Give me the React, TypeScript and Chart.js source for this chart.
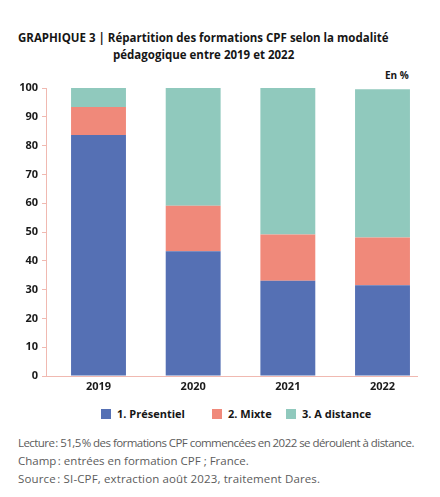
import React, { useEffect, useRef } from "react";
import { Chart, registerables } from "chart.js";

Chart.register(...registerables);

const years = ["2019", "2020", "2021", "2022"];
const presentiel = [83.7, 43.3, 33.1, 31.5];
const mixte = [9.7, 15.8, 16.0, 16.6];
const distance = [6.6, 40.9, 50.9, 51.5];
const seriesNames = ["1. Présentiel", "2. Mixte", "3. A distance"];
const seriesColors = ["#5570b4", "#f0897a", "#90c9bd"];

const titleLine1 = "GRAPHIQUE 3 | Répartition des formations CPF selon la modalité";
const titleLine2 = "pédagogique entre 2019 et 2022";
const unitLabel = "En %";
const notes = [
  "Lecture\u202F: 51,5\u202F% des formations CPF commencées en 2022 se déroulent à distance.",
  "Champ\u202F: entrées en formation CPF ; France.",
  "Source\u202F: SI-CPF, extraction août 2023, traitement Dares.",
];

const FONT = "'Open Sans', 'DejaVu Sans', sans-serif";
const AXIS_COLOR = "#f0b9b1";

export default function App() {
  const canvasRef = useRef<HTMLCanvasElement | null>(null);

  useEffect(() => {
    const series = [presentiel, mixte, distance];
    const chart = new Chart(canvasRef.current!, {
      type: "bar",
      data: {
        datasets: series.map((vals, k) => ({
          label: seriesNames[k],
          data: vals.map((v, i) => ({ x: i, y: v })),
          backgroundColor: seriesColors[k],
          borderWidth: 0,
          categoryPercentage: 1,
          barPercentage: 0.58,
        })),
      },
      options: {
        animation: false,
        responsive: false,
        maintainAspectRatio: false,
        layout: { padding: { top: 28, right: 23, left: 0, bottom: 0 } },
        plugins: {
          legend: { display: false },
          tooltip: { enabled: false },
        },
        scales: {
          x: {
            type: "linear",
            stacked: true,
            offset: false,
            min: -0.5546,
            max: 3.3644,
            afterFit: (s: any) => {
              s.height = 24;
            },
            grid: { display: false, drawTicks: false },
            border: { display: true, color: AXIS_COLOR, width: 1 },
            ticks: {
              stepSize: 1,
              includeBounds: false,
              autoSkip: false,
              maxRotation: 0,
              padding: 4,
              color: "#1a1a1a",
              font: { family: FONT, size: 11, weight: "bold" },
              callback: (v: any) =>
                Number.isInteger(v) && years[v] !== undefined ? years[v] : "",
            },
          },
          y: {
            stacked: true,
            min: 0,
            max: 100,
            afterFit: (s: any) => {
              s.width = 46;
            },
            grid: {
              display: true,
              drawOnChartArea: false,
              drawTicks: true,
              tickLength: 4,
              color: AXIS_COLOR,
            },
            border: { display: true, color: AXIS_COLOR, width: 1 },
            ticks: {
              stepSize: 10,
              padding: 4,
              color: "#1a1a1a",
              font: { family: FONT, size: 11, weight: "bold" },
            },
          },
        },
      } as any,
    });
    return () => chart.destroy();
  }, []);

  const noteSpacing = ["-0.55px", "0px", "0.13px"];

  return (
    <div
      style={{
        position: "fixed",
        left: 0,
        top: 0,
        width: 440,
        height: 497,
        background: "#fff",
        fontFamily: FONT,
        overflow: "hidden",
      }}
    >
      <div
        style={{
          position: "absolute",
          left: 18,
          top: 29,
          fontSize: 11.5,
          fontWeight: 700,
          color: "#161616",
          lineHeight: "17px",
          whiteSpace: "nowrap",
        }}
      >
        <div>{titleLine1}</div>
        <div style={{ paddingLeft: 95 }}>{titleLine2}</div>
      </div>
      <div
        style={{
          position: "absolute",
          left: 385,
          top: 68,
          fontSize: 10,
          fontWeight: 700,
          color: "#161616",
        }}
      >
        {unitLabel}
      </div>
      <canvas
        ref={canvasRef}
        width={440}
        height={340}
        style={{ position: "absolute", left: 0, top: 60, width: 440, height: 340 }}
      />
      {seriesNames.map((name, k) => (
        <div
          key={name}
          style={{
            position: "absolute",
            left: [101, 212, 286][k],
            top: 406,
            display: "flex",
            alignItems: "center",
            fontSize: 11,
            fontWeight: 700,
            color: "#161616",
            whiteSpace: "nowrap",
          }}
        >
          <span
            style={{
              display: "inline-block",
              width: 10,
              height: 10,
              background: seriesColors[k],
              marginRight: 6,
            }}
          />
          {name}
        </div>
      ))}
      <div
        style={{
          position: "absolute",
          left: 18,
          top: 434,
          fontSize: 11.5,
          color: "#5c5c5c",
          lineHeight: "18px",
          whiteSpace: "nowrap",
        }}
      >
        {notes.map((line, i) => (
          <div key={i} style={{ letterSpacing: noteSpacing[i] }}>
            {line}
          </div>
        ))}
      </div>
    </div>
  );
}
